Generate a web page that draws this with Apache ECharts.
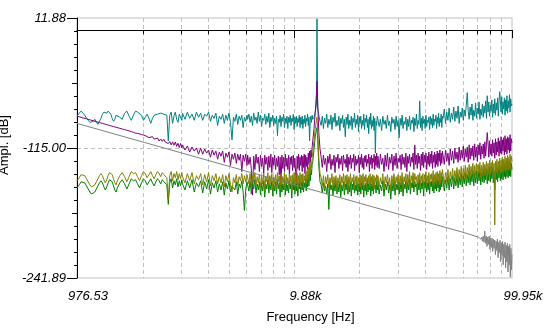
<!DOCTYPE html>
<html><head><meta charset="utf-8">
<script src="https://cdn.jsdelivr.net/npm/echarts@6/dist/echarts.min.js"></script>
<style>html,body{margin:0;padding:0;background:#fff}#c{width:546px;height:336px}</style>
</head><body><div id="c"></div>
<script>
// ---- data (Hz, dB) ----
const freqs = [976.53,1000,1020,1040,1060,1080,1100,1120,1140,1160,1180,1200,1220,1240,1260,1280,1300,1320,1340,1360,1380,1400,1420,1440,1460,1480,1500,
1540,1580,1620,1660,1700,1740,1780,1820,1860,1900,1940,1980,2020,2060,2100,2140,2180,2220,2260,2300,2340,2380,2420,2460,2500,2540,2580,2620,2660,2700,2740,2780,2820,2860,2900,2940,2980,
3000,3080,3160,3240,3320,3400,3480,3560,3640,3720,3800,3880,3960,4040,4120,4200,4280,4360,4440,4520,4600,4680,4760,4840,4920,5000,5080,5160,5240,5320,5400,5480,5560,5640,5720,5800,5880,5960,
6000,6080,6160,6240,6320,6400,6480,6560,6640,6720,6800,6880,6960,7040,7120,7200,7280,7360,7440,7520,7600,7680,7760,7840,7920,8000,8080,8160,8240,8320,8400,8480,8560,8640,8720,8800,8880,8960,9040,9120,9200,9280,9360,9440,9520,9600,9680,9760,9840,9920,10000,10080,10160,10240,10320,10400,10480,10560,10640,10720,10800,10880,10960,11040,11120,11200,11280,11360,11440,11520,11600,11680,11760,11840,11920,
12000,12160,12320,12480,12550,12640,12800,12960,13120,13280,13440,13600,13760,13920,14080,14240,14400,14560,14720,14880,15040,15200,15360,15520,15680,15840,16000,16160,16320,16480,16640,16800,16960,17120,17280,17440,17600,17760,17920,18080,18240,18400,18560,18720,18880,19040,19200,19360,19520,19680,19840,20000,20160,20320,20480,20640,20800,20960,21120,21280,21440,21600,21760,21920,22080,22240,22400,22560,22720,22880,23040,23200,23360,23520,23680,23840,
24000,24320,24640,24960,25280,25600,25920,26240,26560,26880,27200,27520,27840,28160,28480,28800,29120,29440,29760,30080,30400,30720,31040,31360,31680,32000,32320,32640,32960,33280,33600,33920,34240,34560,34880,35200,35520,35840,36160,36480,36800,37120,37440,37760,38080,38400,38720,39040,39360,39680,40000,40320,40640,40960,41280,41600,41920,42240,42560,42880,43200,43520,43840,44160,44480,44800,45120,45440,45760,46080,46400,46720,47040,47360,47680,
48000,48640,49280,49920,50560,51200,51840,52480,53120,53760,54400,55040,55680,56320,56960,57600,58240,58880,59520,60160,60800,61440,62080,62720,63360,64000,64640,65280,65920,66560,67200,67840,68480,69120,69760,70400,71040,71680,72320,72960,73600,74240,74880,75520,76160,76800,77440,78080,78720,79360,80000,80640,81280,81920,82560,83200,83840,84480,85120,85760,86400,87040,87680,88320,88960,89600,90240,90880,91520,92160,92800,93440,94080,94720,95360,96000,96640,97280,97920,98560,99200,
99950];

const tealDb = [-84,-81,-79,-80,-83,-86,-88,-90,-91,-89,-87,-88,-92,-91,-86,-82,-80,-79,-81,-79,-79,-82,-86,-89,-87,-83,-82,
-85,-87,-81,-79,-84,-88,-83,-79,-80,-79,-83,-88,-85,-82,-86,-91,-86,-83,-83,-82,-83,-81,-80,-82,-81,-83,-108,-83,-80,-91,-84,-80,-87,-90,-82,-81,-88,
-81,-87,-80,-86,-82,-88,-80,-85,-81,-88,-82,-84,-80,-89,-83,-86,-81,-93,-84,-87,-82,-91,-83,-88,-81,-90,-107,-85,-89,-82,-92,-84,-88,-83,-95,-85,-89,-83,
-87,-82,-90,-84,-93,-81,-88,-85,-91,-80,-89,-83,-94,-86,-88,-82,-92,-84,-90,-81,-95,-85,-89,-83,-93,-86,-91,-84,-103,-87,-90,-83,-94,-85,-89,-82,-95,-86,-91,-84,-96,-85,-90,-83,-93,-86,-89,-82,-97,-85,-91,-84,-94,-86,-90,-83,-95,-85,-92,-84,-96,-87,-91,-83,-94,-86,-89,-82,-93,-85,-108,-88,-84,-90,-83,
-87,-85,-80,-72,11,-76,-83,-89,
-93,-84,-96,-86,-91,-82,-95,-87,-92,-83,-97,-85,-90,-81,-94,-88,-93,-84,-98,-86,-91,-83,-95,-87,-104,-85,-92,-82,-96,-88,-93,-84,-97,-86,-90,-81,-95,-87,-92,-83,-99,-85,-91,-84,-96,-88,-93,-82,-97,-86,-90,-83,-95,-87,-101,-85,-92,-81,-96,-88,-94,-84,-98,-86,-120,-89,-93,-84,
-85,-94,-87,-98,-84,-92,-88,-96,-83,-93,-89,-99,-85,-91,-87,-97,-84,-94,-88,-105,-86,-93,-83,-96,-89,-92,-85,-98,-87,-94,-84,-97,-88,-91,-85,-99,-86,-93,-82,-96,-88,-92,-69,-95,-86,-98,-84,-91,-87,-96,-83,-94,-88,-90,-85,-97,-84,-92,-86,-95,-82,-93,-87,-89,-83,-96,-85,-91,-81,-94,-86,-90,-82,-95,-84,
-86,-77,-91,-80,-88,-76,-90,-81,-87,-75,-89,-79,-86,-74,-91,-80,-85,-76,-88,-78,-84,-73,-61,-79,-87,-75,-83,-72,-88,-78,-84,-71,-86,-76,-82,-70,-87,-77,-83,-72,-85,-74,-81,-69,-86,-64,-80,-70,-84,-73,-79,-68,-85,-72,-81,-67,-83,-71,-78,-66,-84,-70,-60,-69,-80,-65,-82,-70,-77,-66,-83,-68,-79,-64,-81,-69,-76,-63,-80,-67,-74,
-72];

const purpleDb = [-84.0,-84.5,-85.1,-85.6,-86.1,-86.5,-87.0,-87.5,-88.0,-88.4,-88.9,-89.3,-89.8,-90.2,-90.6,-91.0,-91.4,-91.8,-92.2,-92.6,-93.0,-93.4,-93.7,-94.1,-94.4,-94.8,-95.1,
-95.8,-96.5,-97.1,-97.7,-98.3,-99.0,-99.6,-100.6,-100.7,-100.8,-101.8,-102.8,-102.9,-102.9,-104.9,-104.4,-103.9,-106.3,-105.8,-105.3,-108.2,-106.2,-108.6,-106.6,-109.3,-107.8,-110.7,-108.7,-112.0,-109.0,-112.3,-109.1,-113.4,-110.4,-114.6,-110.6,-114.9,
-112,-117,-113,-119,-114,-118,-115,-121,-115,-121,-116,-120,-117,-124,-117,-122,-118,-126,-119,-123,-118,-129,-120,-124,-119,-132,-121,-126,-120,-130,-121,-127,-121,-138,-122,-128,-121,-132,
-122,-131,-124,-135,-161,-123,-136,-121,-130,-124,-138,-122,-133,-125,-140,-122,-131,-124,-137,-123,-134,-121,-139,-124,-132,-122,-136,-125,-133,-123,-141,-124,-152,-122,-135,-124,-138,-121,-133,-125,-136,-122,-142,-124,-131,-123,-137,-122,-134,-125,-139,-151,-123,-135,-121,-137,-124,-132,-122,-138,-123,-134,-121,-140,-122,-133,-124,-136,-120,-131,-118,-129,-117,-124,-114,
-108,-96,-80,-62,-50,-70,-100,-116,
-124,-134,-122,-131,-125,-138,-123,-130,-121,-136,-126,-132,-122,-139,-124,-129,-121,-135,-125,-131,-123,-137,-122,-130,-126,-134,-121,-138,-124,-131,-122,-135,-125,-129,-121,-137,-123,-132,-126,-130,-122,-139,-124,-131,-121,-134,-125,-136,-123,-129,-122,-133,-126,-130,-121,-138,-124,-131,-122,-135,-125,-129,-121,-136,-123,-132,-120,-134,
-123,-135,-121,-131,-125,-138,-122,-133,-120,-136,-124,-130,-121,-137,-123,-132,-120,-135,-125,-129,-122,-136,-121,-131,-124,-134,-120,-138,-123,-130,-121,-133,-124,-129,-120,-136,-112,-131,-122,-135,-120,-130,-123,-137,-121,-132,-119,-134,-122,-129,-120,-136,-123,-131,-119,-133,-121,-130,-118,-135,-122,-129,-119,-134,-121,-131,-118,-133,-120,-128,-117,-132,-120,-130,-118,
-119,-131,-117,-128,-120,-132,-116,-127,-118,-130,-115,-126,-119,-129,-114,-127,-117,-125,-113,-128,-116,-124,-114,-129,-112,-126,-115,-123,-113,-127,-111,-124,-114,-128,-112,-122,-110,-126,-113,-121,-111,-125,-109,-123,-112,-100,-110,-124,-108,-121,-111,-123,-107,-120,-110,-125,-106,-122,-109,-119,-105,-123,-108,-120,-104,-121,-107,-118,-105,-122,-103,-119,-106,-121,-104,-117,-105,-120,-102,-118,-106,
-110];

const oliveDb = [-147,-144,-141,-140,-142,-145,-148,-151,-153,-153,-151,-148,-145,-142,-140,-142,-146,-149,-146,-142,-139,-138,-141,-145,-149,-151,-147,
-142,-139,-143,-148,-143,-138,-140,-139,-143,-147,-142,-138,-140,-144,-141,-138,-142,-145,-141,-138,-140,-143,-139,-141,-140,-144,-165,-142,-138,-147,-140,-144,-138,-146,-140,-145,-139,
-143,-149,-140,-147,-139,-150,-142,-146,-140,-151,-141,-148,-139,-152,-142,-147,-140,-150,-143,-149,-141,-153,-142,-148,-140,-151,-158,-144,-149,-141,-152,-143,-147,-140,-150,-142,-148,-141,
-144,-150,-140,-153,-142,-148,-139,-152,-143,-149,-141,-154,-142,-150,-140,-156,-143,-148,-139,-152,-142,-149,-140,-155,-143,-150,-141,-153,-139,-148,-142,-156,-140,-151,-143,-149,-139,-154,-141,-150,-144,-152,-140,-148,-142,-157,-141,-149,-139,-153,-143,-150,-140,-155,-142,-148,-139,-152,-141,-149,-140,-151,-142,-147,-138,-150,-137,-146,-134,-145,-131,-140,-129,-134,-124,
-120,-108,-96,-88,-85,-97,-125,-140,
-144,-152,-142,-155,-143,-150,-141,-154,-144,-149,-140,-153,-143,-151,-142,-156,-144,-150,-141,-154,-143,-149,-140,-153,-142,-150,-141,-155,-143,-149,-140,-152,-144,-148,-141,-154,-143,-150,-142,-156,-144,-149,-141,-153,-142,-151,-140,-155,-143,-148,-141,-152,-144,-150,-142,-154,-140,-149,-143,-153,-141,-150,-142,-155,-144,-148,-141,-152,
-142,-153,-144,-150,-140,-155,-143,-149,-141,-152,-144,-158,-142,-150,-140,-154,-143,-149,-141,-153,-142,-151,-139,-155,-143,-148,-140,-152,-141,-149,-138,-153,-142,-147,-139,-151,-140,-146,-143,-154,-141,-149,-139,-152,-142,-148,-140,-155,-141,-147,-138,-151,-142,-149,-139,-153,-141,-146,-140,-150,-137,-152,-141,-148,-139,-150,-138,-147,-140,-151,-137,-149,-139,-146,-136,
-137,-150,-139,-147,-136,-149,-138,-146,-135,-148,-137,-145,-134,-147,-136,-144,-133,-146,-135,-143,-132,-145,-134,-142,-131,-144,-133,-141,-130,-145,-132,-142,-130,-143,-131,-140,-129,-144,-132,-141,-129,-142,-131,-139,-128,-143,-130,-140,-127,-141,-129,-138,-127,-142,-130,-190,-128,-139,-126,-141,-128,-137,-125,-140,-127,-138,-124,-139,-126,-136,-123,-138,-125,-136,-122,-137,-124,-135,-121,-136,-123,
-128];

const greenDb = [-154,-151,-148,-147,-149,-152,-155,-158,-160,-160,-158,-155,-152,-149,-147,-149,-153,-156,-153,-149,-146,-145,-148,-152,-156,-158,-154,
-149,-146,-150,-155,-150,-145,-147,-146,-150,-154,-149,-145,-147,-151,-148,-145,-149,-152,-148,-145,-147,-150,-146,-148,-147,-151,-170,-149,-145,-154,-147,-151,-145,-153,-147,-152,-146,
-150,-156,-147,-154,-146,-158,-149,-153,-147,-159,-148,-155,-146,-160,-149,-154,-147,-158,-150,-156,-148,-161,-149,-155,-147,-158,-152,-151,-156,-148,-160,-150,-154,-147,-158,-176,-155,-148,
-151,-157,-147,-160,-149,-155,-146,-159,-150,-156,-148,-161,-149,-157,-147,-163,-150,-155,-146,-159,-149,-156,-147,-162,-150,-157,-148,-160,-146,-155,-149,-163,-147,-158,-150,-156,-146,-161,-148,-157,-151,-159,-147,-155,-149,-164,-148,-156,-146,-160,-150,-157,-147,-162,-149,-155,-146,-159,-148,-156,-147,-158,-149,-154,-145,-157,-144,-153,-141,-152,-138,-147,-136,-141,-131,
-128,-116,-104,-97,-95,-106,-133,-148,
-151,-159,-149,-157,-152,-160,-150,-175,-148,-156,-151,-161,-149,-157,-147,-160,-150,-158,-148,-163,-151,-157,-148,-161,-150,-156,-147,-160,-149,-158,-148,-162,-150,-156,-147,-159,-151,-157,-149,-161,-150,-158,-147,-160,-149,-156,-148,-163,-151,-157,-149,-161,-147,-158,-150,-156,-148,-162,-150,-157,-147,-160,-149,-155,-151,-159,-148,-156,
-149,-160,-151,-157,-147,-162,-150,-156,-148,-159,-151,-165,-149,-157,-147,-161,-150,-156,-148,-160,-149,-158,-146,-162,-150,-155,-147,-159,-148,-156,-145,-160,-149,-154,-146,-158,-147,-153,-150,-161,-148,-156,-146,-159,-149,-155,-147,-162,-148,-154,-145,-158,-149,-156,-146,-160,-148,-153,-147,-157,-144,-159,-148,-155,-146,-157,-145,-154,-147,-158,-144,-156,-146,-153,-143,
-144,-157,-146,-154,-143,-156,-145,-153,-142,-155,-144,-152,-141,-154,-143,-151,-140,-153,-142,-150,-139,-152,-141,-149,-138,-151,-140,-148,-137,-152,-139,-149,-137,-150,-138,-147,-136,-151,-139,-148,-136,-149,-138,-146,-135,-150,-137,-147,-134,-148,-136,-145,-134,-149,-137,-156,-135,-146,-133,-148,-135,-144,-132,-147,-134,-145,-131,-146,-133,-143,-130,-145,-132,-143,-129,-144,-131,-142,-128,-143,-130,
-136];

const grayFreqs = [976.53,2000,5000,10000,20000,40000,60000,
70000,70600,71200,71800,72400,73000,73600,74200,74800,75400,76000,76600,77200,77800,78400,79000,79600,80200,80800,81400,82000,82600,83200,83800,84400,85000,85600,86200,86800,87400,88000,88600,89200,89800,90400,91000,91600,92200,92800,93400,94000,94600,95200,95800,96400,97000,97600,98200,98800,99400,99950];
const grayDb = [-91.0,-109.6,-133.3,-151.2,-169.2,-187.1,-197.6,
-202,-203,-201,-204,-202,-206,-201,-207,-196,-208,-201,-211,-202,-209,-201,-214,-203,-212,-203,-216,-204,-213,-205,-219,-206,-215,-204,-222,-207,-217,-205,-226,-208,-220,-206,-229,-209,-222,-207,-232,-210,-226,-208,-236,-211,-229,-209,-241,-213,-234,-219];

// ---- axes ----
const xMin = 976.53, xMax = 99950;
const xLabelValues = [976.53, 9880, 99950];
const xLabelTexts = ['976.53', '9.88k', '99.95k'];
const xGridFreqs = [1976,2964,3952,4940,5928,6916,7904,8892,9880,19760,29640,39520,49400,59280,69160,79040,88920];
const yMin = -241.89, yMax = 11.88;
const yLabelValues = [11.88, -115.00, -241.89];
const yGridValues = [-115.00];
const yMidTicks = [-51.56, -178.45];
const yMinorTicks = [-0.81,-13.50,-26.19,-38.87,-64.25,-76.94,-89.63,-102.32,-127.69,-140.38,-153.07,-165.76,-191.14,-203.82,-216.51,-229.20];

const FONT = '"Liberation Sans", Arial, sans-serif';
const L10 = v => Math.log10(v);
const pairs = (xs, ys) => xs.map((x, i) => [x, ys[i]]);
const dash = {type: [4, 3], color: '#c0c0c0', width: 1};
const blank = {axisLine: {show: false}, axisLabel: {show: false}, splitLine: {show: false}};

const chart = echarts.init(document.getElementById('c'), null, {renderer: 'canvas'});
const lineSeries = (name, xs, ys, color) => ({
  name, type: 'line', xAxisIndex: 0, yAxisIndex: 0, data: pairs(xs, ys),
  showSymbol: false, symbol: 'none', silent: true,
  lineStyle: {color, width: 1}, itemStyle: {color}, emphasis: {disabled: true}
});

chart.setOption({
  animation: false,
  backgroundColor: '#ffffff',
  grid: {left: 77, top: 18, width: 435, height: 260, containLabel: false, outerBoundsMode: 'none',
         show: true, borderColor: '#c0c0c0', borderWidth: 1, backgroundColor: 'transparent'},
  xAxis: [
    {type: 'log', logBase: 10, min: xMin, max: xMax, position: 'bottom',
     axisLine: {show: true, lineStyle: {color: '#000', width: 1}},
     axisTick: {show: false}, axisLabel: {show: false}, splitLine: {show: false}, minorTick: {show: false},
     name: 'Frequency [Hz]', nameLocation: 'middle', nameGap: 33,
     nameTextStyle: {fontFamily: FONT, fontSize: 13, color: '#000', padding: [0, 0, 0, 32]}},
    Object.assign({type: 'value', min: L10(xMin), max: L10(xMax), position: 'bottom'}, blank, {
     axisTick: {show: true, customValues: xLabelValues.map(L10), length: 8, lineStyle: {color: '#000', width: 1}},
     axisLabel: {show: true, customValues: xLabelValues.map(L10), margin: 12,
       fontFamily: FONT, fontSize: 13, fontStyle: 'italic', color: '#000', padding: [0, 0, 0, 22],
       formatter: v => { const i = xLabelValues.findIndex(f => Math.abs(L10(f) - v) < 1e-6); return i >= 0 ? xLabelTexts[i] : ''; }}}),
    Object.assign({type: 'value', min: L10(xMin), max: L10(xMax), position: 'bottom'}, blank, {
     axisTick: {show: true, customValues: xGridFreqs.map(L10), length: 4, lineStyle: {color: '#000', width: 1}},
     splitLine: {show: true, lineStyle: dash}})
  ],
  yAxis: [
    {type: 'value', min: yMin, max: yMax, position: 'left',
     axisLine: {show: true, lineStyle: {color: '#000', width: 1}},
     axisTick: {show: true, customValues: yLabelValues, length: 10, lineStyle: {color: '#000', width: 1}},
     axisLabel: {show: true, customValues: yLabelValues, margin: 11, fontFamily: FONT, fontSize: 13,
       fontStyle: 'italic', color: '#000', formatter: v => v.toFixed(2)},
     splitLine: {show: false},
     name: 'Ampl. [dB]', nameLocation: 'middle', nameGap: 48,
     nameTextStyle: {fontFamily: FONT, fontSize: 13, color: '#000', padding: [0, 0, 0, 6]}},
    Object.assign({type: 'value', min: yMin, max: yMax, position: 'left'}, blank, {
     axisTick: {show: true, customValues: yMidTicks, length: 5, lineStyle: {color: '#000', width: 1}}}),
    Object.assign({type: 'value', min: yMin, max: yMax, position: 'left'}, blank, {
     axisTick: {show: true, customValues: yMinorTicks, length: 3, lineStyle: {color: '#000', width: 1}}}),
    Object.assign({type: 'value', min: yMin, max: yMax, position: 'left'}, blank, {
     axisTick: {show: false, customValues: yGridValues},
     splitLine: {show: true, lineStyle: dash}})
  ],
  series: [
    lineSeries('teal', freqs, tealDb, '#008080'),
    lineSeries('purple', freqs, purpleDb, '#800080'),
    lineSeries('green', freqs, greenDb, '#008000'),
    lineSeries('olive', freqs, oliveDb, '#808000'),
    lineSeries('gray', grayFreqs, grayDb, '#808080')
  ]
});
</script>
</body></html>
